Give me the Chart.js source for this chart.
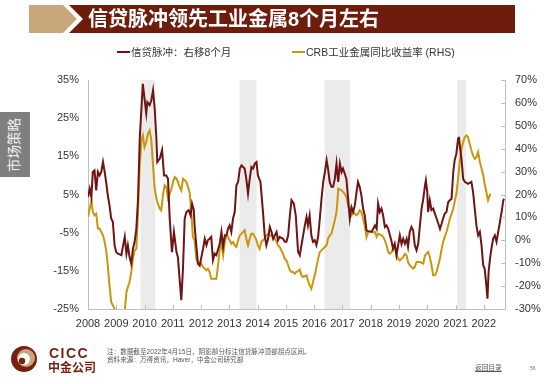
<!DOCTYPE html>
<html>
<head>
<meta charset="utf-8">
<script src="https://cdn.jsdelivr.net/npm/chart.js@4.4.1/dist/chart.umd.min.js"></script>
<style>
body { margin: 0; background: #fff; }
#page { position: relative; width: 550px; height: 384px; overflow: hidden; font-family: "Liberation Sans", Arial, "Noto Sans CJK SC", sans-serif; }
#chart { position: absolute; left: 0; top: 0; }
.abs { position: absolute; white-space: nowrap; }
.cjk { font-family: "Liberation Sans", Arial, "Noto Sans CJK SC", sans-serif; }
</style>
</head>
<body>
<div id="page">
  <canvas id="chart" width="550" height="384"></canvas>

  <!-- title bar -->
  <svg class="abs" style="left:0;top:0" width="550" height="40">
    <polygon points="29,5 63,5 77,19 63,33 29,33" fill="#C9A77C"/>
    <polygon points="69,5 515,5 515,33 69,33 83,19" fill="#6E1C0C"/>
  </svg>
  <div class="abs cjk" style="left:88px;top:6px;font-size:20px;font-weight:bold;color:#fff;line-height:26px;">信贷脉冲领先工业金属8个月左右</div>

  <!-- legend -->
  <div class="abs" style="left:117px;top:51px;width:13px;height:2px;background:#6F1313"></div>
  <div class="abs cjk" style="left:131px;top:45px;font-size:10.5px;color:#333;line-height:14px;">信贷脉冲：右移8个月</div>
  <div class="abs" style="left:292px;top:51px;width:13px;height:2px;background:#C9980A"></div>
  <div class="abs cjk" style="left:306px;top:45px;font-size:10.5px;color:#333;line-height:14px;">CRB工业金属同比收益率 (RHS)</div>

  <!-- side tab -->
  <div class="abs" style="left:0;top:112px;width:30px;height:65px;background:#7F7F7F"></div>
  <div class="abs cjk" style="left:-17px;top:137px;width:64px;text-align:center;font-size:13.5px;color:#f2f2f2;line-height:16px;transform:rotate(-90deg);">市场策略</div>

  <!-- footer -->
  <svg class="abs" style="left:8px;top:342px" width="34" height="34">
    <circle cx="16" cy="17" r="13" fill="#7A1F10"/>
    <circle cx="18" cy="16" r="9" fill="#C9A77C"/>
    <circle cx="16" cy="17" r="6" fill="#fff"/>
    <circle cx="14" cy="19" r="3.2" fill="#7A1F10"/>
  </svg>
  <div class="abs" style="left:49px;top:345px;font-size:14px;font-weight:bold;color:#7A1F10;letter-spacing:1.5px;line-height:16px;">CICC</div>
  <div class="abs cjk" style="left:48px;top:361px;font-size:12px;font-weight:bold;color:#7A1F10;line-height:14px;">中金公司</div>
  <div class="abs cjk" style="left:107px;top:348px;font-size:6.6px;color:#555;line-height:8px;">注：数据截至2022年4月15日，阴影部分标注信贷脉冲顶部拐点区间。</div>
  <div class="abs cjk" style="left:107px;top:356px;font-size:6.6px;color:#555;line-height:8px;">资料来源：万得资讯，Haver，中金公司研究部</div>
  <div class="abs cjk" style="left:475px;top:364px;font-size:6.7px;color:#555;line-height:8px;text-decoration:underline;">返回目录</div>
  <div class="abs" style="left:530px;top:364px;font-size:5px;color:#777;line-height:8px;">56</div>
</div>

<script>
// x axis labels and y tick values
const yearTicks = [2008, 2009, 2010, 2011, 2012, 2013, 2014, 2015, 2016, 2017, 2018, 2019, 2020, 2021, 2022];
const leftTicks = [-25, -15, -5, 5, 15, 25, 35];
const rightTicks = [-30, -20, -10, 0, 10, 20, 30, 40, 50, 60, 70];

// shaded periods (credit pulse tops)
const bandStarts = [2009.86, 2013.36, 2016.37, 2021.06];
const bandEnds = [2010.38, 2013.96, 2017.28, 2021.37];

// credit pulse, shifted 8 months (left axis, %)
const pulseYears = [
  2008.00, 2008.06, 2008.12, 2008.17, 2008.23, 2008.29, 2008.35, 2008.41, 2008.47, 2008.53, 2008.59, 2008.65, 2008.70, 2008.76, 2008.82, 2008.88, 2008.94,
  2009.00, 2009.06, 2009.18, 2009.30, 2009.36, 2009.41, 2009.47, 2009.53, 2009.59, 2009.65, 2009.71, 2009.77, 2009.83, 2009.89, 2009.94,
  2010.00, 2010.06, 2010.10, 2010.18, 2010.24, 2010.30, 2010.36, 2010.42, 2010.45, 2010.54, 2010.62, 2010.69, 2010.77, 2010.83, 2010.89, 2010.97,
  2011.04, 2011.13, 2011.18, 2011.24, 2011.30, 2011.36, 2011.42, 2011.48, 2011.56, 2011.63, 2011.68, 2011.74, 2011.77, 2011.83, 2011.89, 2011.95,
  2012.01, 2012.07, 2012.13, 2012.19, 2012.24, 2012.30, 2012.36, 2012.42, 2012.48, 2012.54, 2012.66, 2012.72, 2012.78, 2012.84, 2012.90, 2012.95,
  2013.01, 2013.07, 2013.13, 2013.19, 2013.25, 2013.31, 2013.37, 2013.43, 2013.54, 2013.60, 2013.66, 2013.72, 2013.78, 2013.84, 2013.90, 2013.96,
  2014.01, 2014.10, 2014.19, 2014.25, 2014.31, 2014.37, 2014.43, 2014.49, 2014.55, 2014.61, 2014.67, 2014.72, 2014.78, 2014.90, 2014.96,
  2015.02, 2015.08, 2015.14, 2015.20, 2015.28, 2015.35, 2015.43, 2015.49, 2015.55, 2015.61, 2015.67, 2015.73, 2015.78, 2015.84, 2015.90, 2015.96,
  2016.02, 2016.08, 2016.14, 2016.20, 2016.26, 2016.32, 2016.38, 2016.44, 2016.49, 2016.55, 2016.61, 2016.67, 2016.73, 2016.79, 2016.85, 2016.91, 2016.97,
  2017.02, 2017.08, 2017.14, 2017.20, 2017.26, 2017.32, 2017.38, 2017.44, 2017.50, 2017.55, 2017.61, 2017.67, 2017.73, 2017.79, 2017.85, 2017.91,
  2018.03, 2018.15, 2018.21, 2018.26, 2018.32, 2018.38, 2018.44, 2018.50, 2018.56, 2018.62, 2018.68, 2018.74, 2018.79, 2018.85, 2018.91, 2018.97,
  2019.03, 2019.09, 2019.15, 2019.21, 2019.27, 2019.32, 2019.38, 2019.44, 2019.50, 2019.56, 2019.62, 2019.68, 2019.74, 2019.80, 2019.86, 2019.92, 2019.95,
  2020.00, 2020.03, 2020.09, 2020.15, 2020.21, 2020.27, 2020.33, 2020.39, 2020.45, 2020.51, 2020.56, 2020.62, 2020.68, 2020.74, 2020.80, 2020.86, 2020.92, 2020.97,
  2021.03, 2021.09, 2021.12, 2021.15, 2021.21, 2021.27, 2021.33, 2021.44, 2021.56, 2021.62, 2021.68, 2021.74, 2021.80, 2021.86, 2021.92, 2021.98,
  2022.03, 2022.09, 2022.13, 2022.17, 2022.22, 2022.28, 2022.33, 2022.39, 2022.45, 2022.51, 2022.57, 2022.63, 2022.69, 2022.72
];
const pulseValues = [
  4.3, 6.5, 4.3, 10.9, 11.3, 6.1, 10.9, 10.0, 10.9, 13.5, 10.9, 7.8, 4.8, 2.2, -1.3, -2.2, -8.3,
  -10.1, -10.5, -10.9, -6.1, -10.5, -8.3, -11.4, -13.1, -9.2, -7.4, -4.0, 3.9, 19.6, 27.5, 34.0,
  30.1, 26.2, 29.2, 28.4, 29.7, 32.3, 27.5, 19.6, 13.5, 14.4, 16.6, 10.0, 10.0, 9.1, -1.3, -10.1,
  -4.8, -10.1, -11.4, -17.1, -22.7, -14.4, -1.3, 0.4, 0.9, -0.5, 2.6, 1.0, -3.1, -8.3, -13.1, -13.6,
  -11.4, -9.2, -6.6, -8.3, -7.0, -6.6, -6.1, -12.2, -10.5, -10.9, -7.9, -4.8, -8.7, -5.7, -5.7, -4.0,
  -3.1, -4.8, -1.3, 0.4, 7.4, 8.3, 11.8, 12.6, 11.8, 9.1, 5.2, 9.1, 12.2, 11.8, 13.1, 13.5,
  10.0, 8.3, 0.4, -5.7, -8.3, -6.6, -3.5, -4.8, -6.6, -5.7, -4.8, -7.0, -6.1, -6.6, -7.4,
  -7.4, -5.7, -0.5, 3.5, 2.6, -0.5, -10.0, -10.9, -8.3, -5.7, -3.1, -0.9, -3.1, -0.5, -5.7, -7.4,
  -7.0, -8.3, -6.1, -1.3, 3.9, 8.3, 10.9, 14.0, 11.8, 8.3, 7.0, 7.0, 9.1, 13.1, 8.3, 13.1, 10.9,
  11.8, 10.5, 9.1, 3.9, -1.3, 1.7, 0.4, 2.2, 5.7, 8.3, 7.0, 4.8, 1.3, -0.5, -4.4, -4.6,
  -4.8, -3.1, -4.0, 2.6, 0.4, 1.3, -0.5, -3.5, -3.1, -4.0, -5.7, -7.4, -9.2, -7.9, -10.9, -8.3,
  -5.7, -8.0, -6.6, -7.9, -6.6, -8.7, -4.8, -3.5, -4.4, -8.3, -9.6, -7.9, -3.1, 1.3, 3.9, 7.4, 8.7,
  5.7, 0.4, 3.5, 0.9, 1.3, 0.0, -1.3, -2.6, -4.0, -2.6, -1.3, 0.0, 0.4, 3.0, 3.5, 3.9, 10.9, 14.0,
  15.7, 19.6, 20.1, 17.9, 14.4, 9.1, 8.3, 7.8, 8.3, 5.7, 1.3, -3.1, -5.7, -4.8, -8.3, -13.6,
  -14.4, -18.8, -22.3, -15.3, -11.8, -8.7, -6.6, -5.7, -7.4, -4.8, -2.2, 0.4, 3.5, 3.9
];

// CRB industrial metals, yoy return (right axis, %)
const crbYears = [
  2008.00, 2008.06, 2008.12, 2008.17, 2008.23, 2008.29, 2008.35, 2008.41, 2008.47, 2008.53, 2008.59, 2008.65, 2008.70, 2008.76, 2008.82, 2008.88, 2008.94,
  2009.00, 2009.12, 2009.24, 2009.30, 2009.36, 2009.41, 2009.47, 2009.53, 2009.59, 2009.65, 2009.71, 2009.77, 2009.83, 2009.89, 2009.94,
  2010.00, 2010.06, 2010.12, 2010.18, 2010.24, 2010.30, 2010.36, 2010.42, 2010.47, 2010.54, 2010.59, 2010.65, 2010.71, 2010.77, 2010.83, 2010.89, 2010.95,
  2011.01, 2011.07, 2011.13, 2011.18, 2011.24, 2011.30, 2011.36, 2011.42, 2011.48, 2011.54, 2011.60, 2011.66, 2011.71, 2011.77, 2011.83, 2011.89, 2011.95,
  2012.01, 2012.07, 2012.19, 2012.24, 2012.30, 2012.36, 2012.54, 2012.60, 2012.66, 2012.72, 2012.78, 2012.84, 2012.90, 2012.95,
  2013.01, 2013.07, 2013.13, 2013.19, 2013.25, 2013.31, 2013.37, 2013.43, 2013.48, 2013.54, 2013.60, 2013.66, 2013.72, 2013.78, 2013.84, 2013.90, 2013.96,
  2014.01, 2014.07, 2014.13, 2014.19, 2014.25, 2014.31, 2014.37, 2014.43, 2014.55, 2014.61, 2014.67, 2014.72, 2014.78, 2014.84, 2014.90, 2014.96,
  2015.02, 2015.08, 2015.14, 2015.20, 2015.25, 2015.31, 2015.37, 2015.43, 2015.49, 2015.55, 2015.61, 2015.73, 2015.78, 2015.84, 2015.90, 2015.96,
  2016.02, 2016.08, 2016.14, 2016.20, 2016.26, 2016.38, 2016.44, 2016.49, 2016.55, 2016.61, 2016.67, 2016.73, 2016.79, 2016.82, 2016.85, 2016.97,
  2017.08, 2017.14, 2017.20, 2017.26, 2017.32, 2017.38, 2017.44, 2017.50, 2017.55, 2017.61, 2017.67, 2017.73, 2017.79, 2017.85, 2017.91,
  2018.03, 2018.09, 2018.15, 2018.21, 2018.26, 2018.38, 2018.44, 2018.50, 2018.56, 2018.62, 2018.68, 2018.74, 2018.79, 2018.85, 2018.91, 2018.97,
  2019.03, 2019.09, 2019.15, 2019.21, 2019.27, 2019.32, 2019.38, 2019.50, 2019.56, 2019.62, 2019.74, 2019.86, 2019.92,
  2020.03, 2020.09, 2020.15, 2020.21, 2020.27, 2020.33, 2020.39, 2020.45, 2020.51, 2020.56, 2020.62, 2020.68, 2020.74, 2020.80, 2020.86, 2020.92, 2020.97,
  2021.03, 2021.09, 2021.15, 2021.21, 2021.27, 2021.33, 2021.39, 2021.44, 2021.50, 2021.56, 2021.62, 2021.68, 2021.74, 2021.80, 2021.86, 2021.92, 2021.98,
  2022.03, 2022.09, 2022.15, 2022.21, 2022.24
];
const crbValues = [
  10.2, 13.8, 17.5, 12.4, 10.9, 11.6, 5.1, 5.1, 3.6, 2.2, -0.7, -5.1, -10.9, -19.7, -26.9, -28.4, -29.9,
  -32, -34, -33, -30.6, -22.6, -20.4, -18.2, -13.8, -8.0, -4.4, -3.7, 12.4, 32.7, 43.7, 45.8,
  40.7, 42.9, 46.5, 48.0, 43.7, 32.7, 22.5, 18.2, 16.0, 13.8, 13.1, 19.6, 24.0, 23.3, 18.2, 20.3, 22.5,
  25.5, 27.6, 26.9, 25.5, 23.3, 21.8, 26.9, 26.2, 25.5, 23.3, 20.5, 11.0, 1.5, 0.0, -8.0, -10.2, -10.9,
  -10.2, -11.7, -13.1, -12.4, -13.8, -16.8, -16.8, -10.9, -3.7, -1.5, -6.6, -0.7, 2.2, 1.5,
  0.0, -1.5, -0.7, -2.2, -2.9, 0.0, 2.2, 2.9, 3.6, 4.4, 0.7, -2.2, 0.7, 2.9, 2.9, 1.5, 0.0,
  -2.2, -3.7, -0.7, 0.0, 0.7, 2.2, 2.9, 2.2, 1.5, 0.7, -0.7, -2.2, -2.9, -4.4, -5.9, -8.0,
  -8.8, -10.9, -13.1, -13.8, -13.8, -14.6, -13.8, -13.5, -12.8, -15.3, -16.0, -15.3, -17.5, -19.7, -21.1, -18.2,
  -15.3, -11.7, -8.0, -5.1, -4.4, -2.9, -2.2, 0.7, 2.2, 2.9, 5.8, 8.7, 12.4, 16.7, 22.5, 21.8,
  20.3, 18.9, 15.3, 12.4, 10.9, 12.4, 11.6, 10.9, 11.6, 13.1, 12.4, 9.4, 6.5, 1.4, 3.6,
  3.9, 3.4, 3.6, 1.5, 2.9, 2.2, 1.5, 0.0, -2.2, -5.1, -5.9, -5.1, -3.7, -2.9, -5.9, -8.0,
  -8.8, -8.0, -7.3, -5.9, -6.6, -9.5, -10.9, -12.4, -11.7, -9.5, -9.5, -10.2, -6.6,
  -5.1, -7.3, -10.9, -15.3, -15.3, -13.8, -10.9, -8.0, -3.7, -0.7, 1.5, 3.6, 6.5, 9.4, 11.6, 13.8, 16.7,
  20.3, 26.9, 34.2, 40.0, 42.9, 45.1, 45.8, 45.1, 42.2, 39.3, 37.1, 35.6, 36.3, 38.6, 34.2, 31.3, 28.4,
  24.7, 21.1, 17.5, 19.6, 20.3
];

const pulseColor = '#6F1313';
const crbColor = '#C9980A';
const axisColor = '#BFBFBF';
const textColor = '#333333';
const tickFont = { family: '"Liberation Sans", Arial, sans-serif', size: 11 };

function toPoints(xs, ys) {
  return xs.map((x, i) => ({ x: x, y: ys[i] }));
}

// gray bands under the lines, short tick marks pointing into the plot
const decorPlugin = {
  id: 'decor',
  beforeDraw(chart) {
    const { ctx, chartArea, scales } = chart;
    ctx.save();
    ctx.fillStyle = '#EBEBEB';
    bandStarts.forEach((s, i) => {
      const x0 = scales.x.getPixelForValue(s);
      const x1 = scales.x.getPixelForValue(bandEnds[i]);
      ctx.fillRect(x0, chartArea.top, x1 - x0, chartArea.bottom - chartArea.top);
    });
    ctx.restore();
  },
  afterDraw(chart) {
    const { ctx, chartArea, scales } = chart;
    ctx.save();
    ctx.strokeStyle = axisColor;
    ctx.lineWidth = 1;
    ctx.beginPath();
    yearTicks.forEach(v => {
      const px = Math.round(scales.x.getPixelForValue(v)) + 0.5;
      ctx.moveTo(px, chartArea.bottom);
      ctx.lineTo(px, chartArea.bottom - 4);
    });
    rightTicks.forEach(v => {
      const py = Math.round(scales.y1.getPixelForValue(v)) + 0.5;
      ctx.moveTo(chartArea.right, py);
      ctx.lineTo(chartArea.right - 4, py);
    });
    ctx.stroke();
    ctx.restore();
  }
};

const hiddenGrid = { display: true, drawOnChartArea: false, drawTicks: false };

new Chart(document.getElementById('chart'), {
  type: 'line',
  data: {
    datasets: [
      {
        label: '信贷脉冲：右移8个月',
        data: toPoints(pulseYears, pulseValues),
        yAxisID: 'y',
        borderColor: pulseColor,
        borderWidth: 2,
        pointRadius: 0,
        tension: 0
      },
      {
        label: 'CRB工业金属同比收益率 (RHS)',
        data: toPoints(crbYears, crbValues),
        yAxisID: 'y1',
        borderColor: crbColor,
        borderWidth: 2,
        pointRadius: 0,
        tension: 0
      }
    ]
  },
  options: {
    responsive: false,
    devicePixelRatio: 1,
    animation: false,
    layout: { padding: { top: 80, left: 0, right: 0, bottom: 0 } },
    plugins: { legend: { display: false }, tooltip: { enabled: false } },
    scales: {
      x: {
        type: 'linear',
        min: 2008,
        max: 2022.75,
        grid: hiddenGrid,
        border: { display: true, color: axisColor },
        afterBuildTicks: s => { s.ticks = yearTicks.map(v => ({ value: v })); },
        afterFit: s => { s.height = 75; },
        ticks: { color: textColor, font: tickFont, padding: 8, maxRotation: 0, autoSkip: false, callback: v => String(v) }
      },
      y: {
        position: 'left',
        min: -25,
        max: 35,
        grid: hiddenGrid,
        border: { display: true, color: axisColor },
        afterBuildTicks: s => { s.ticks = leftTicks.map(v => ({ value: v })); },
        afterFit: s => { s.width = 88; },
        ticks: { color: textColor, font: tickFont, padding: 9, callback: v => v + '%' }
      },
      y1: {
        position: 'right',
        min: -30,
        max: 70,
        grid: hiddenGrid,
        border: { display: true, color: axisColor },
        afterBuildTicks: s => { s.ticks = rightTicks.map(v => ({ value: v })); },
        afterFit: s => { s.width = 45; },
        ticks: { color: textColor, font: tickFont, padding: 10, callback: v => v + '%' }
      }
    }
  },
  plugins: [decorPlugin]
});
</script>
</body>
</html>
